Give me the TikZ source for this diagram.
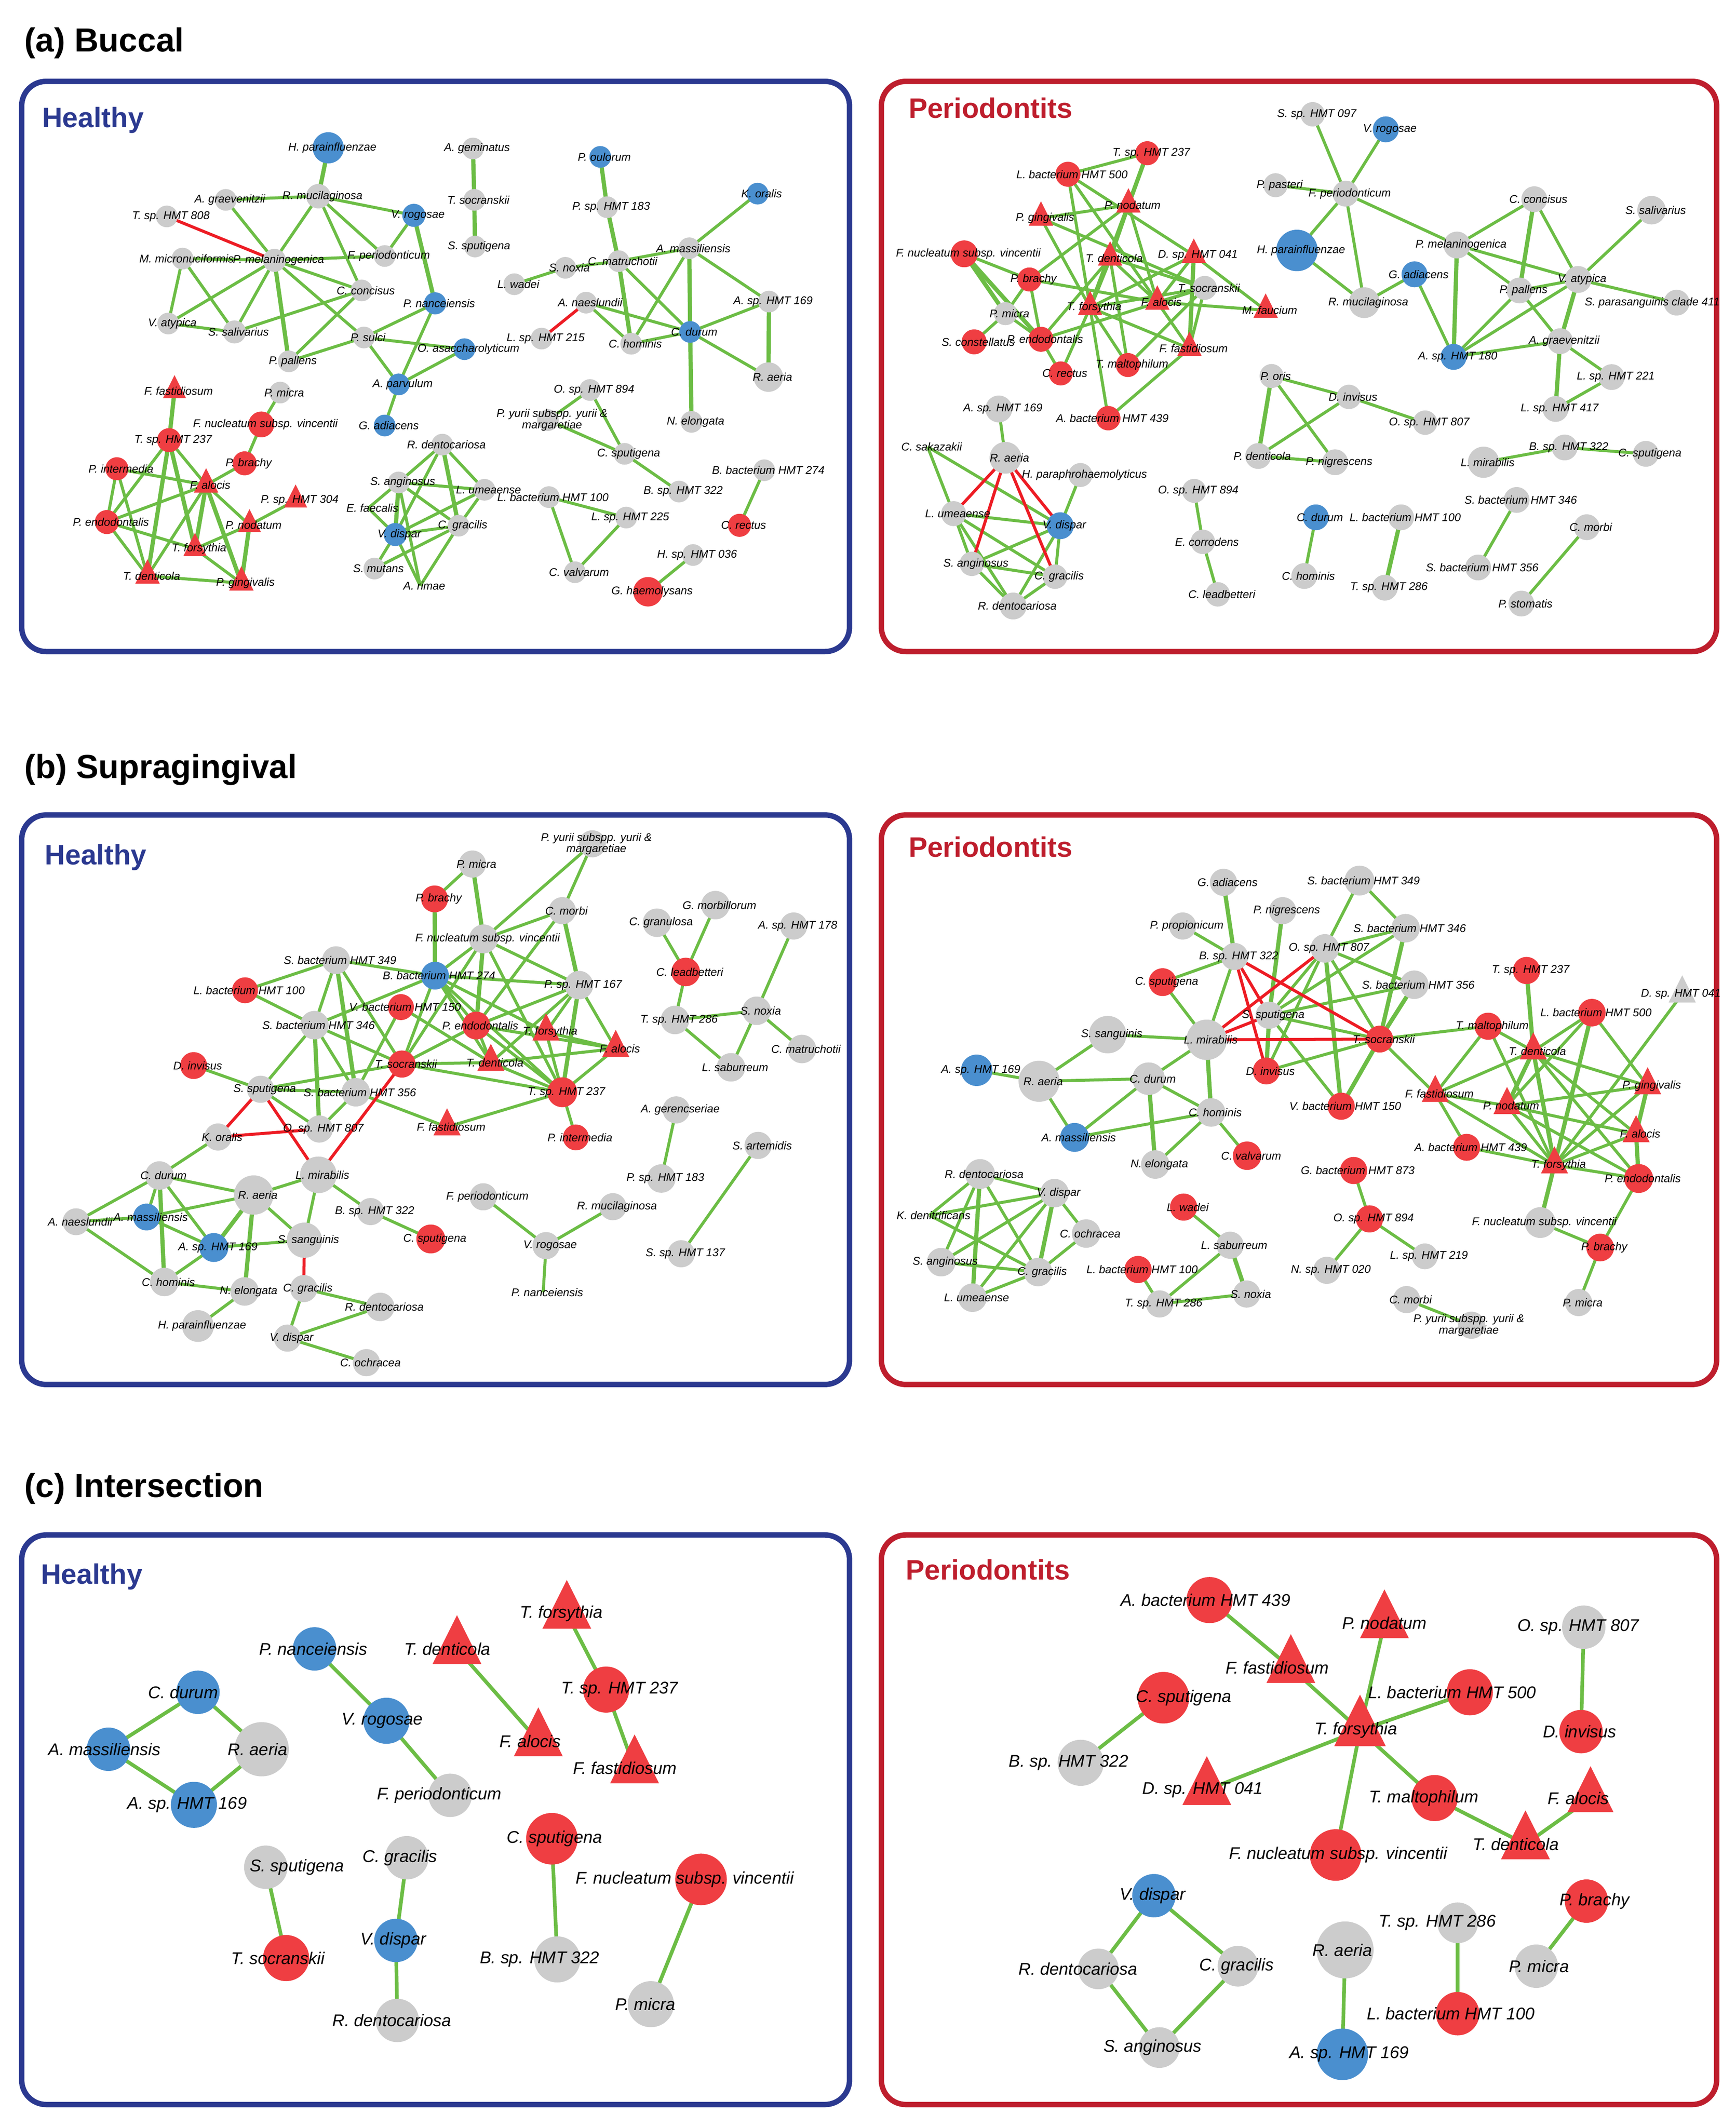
\documentclass[tikz,border=0pt]{standalone}
\usepackage{fontspec}
\setmainfont{Liberation Sans}
\usetikzlibrary{shapes.geometric}
\definecolor{hblue}{HTML}{2B3990}
\definecolor{pred}{HTML}{BE1E2D}
\definecolor{nodered}{HTML}{EF3E42}
\definecolor{nodeblue}{HTML}{4A8FCF}
\definecolor{nodegray}{HTML}{CCCCCC}
\definecolor{posgreen}{HTML}{6CBD45}
\definecolor{negred}{HTML}{ED1C24}
\newcommand{\upx}{0.05cm}
\pgfdeclarelayer{paper}
\pgfdeclarelayer{edges}
\pgfsetlayers{paper,edges,main}
\tikzstyle{lab} = [font=\fontsize{11.8}{10.4}\selectfont\itshape, inner sep=0pt, align=center]
\tikzstyle{labc} = [font=\fontsize{17.8}{17}\selectfont\itshape, inner sep=0pt, align=center]
\tikzset{
  sp/.style={inner sep=0pt, outer sep=0pt},
  gn/.style={sp, circle, fill=nodegray, minimum size=#1*\upx},
  rn/.style={sp, circle, fill=nodered, minimum size=#1*\upx},
  bn/.style={sp, circle, fill=nodeblue, minimum size=#1*\upx},
  wn/.style={sp, circle, minimum size=#1*\upx},
  rt/.style={sp, isosceles triangle, isosceles triangle stretches, shape border rotate=90, fill=nodered, minimum width=#1*\upx, minimum height=#1*\upx},
  gt/.style={sp, isosceles triangle, isosceles triangle stretches, shape border rotate=90, fill=nodegray, minimum width=#1*\upx, minimum height=#1*\upx},
  lb/.style={label={[lab,xshift=3*\upx]center:#1}},
  lx/.style 2 args={label={[lab,xshift=#1*\upx]center:#2}},
  lc/.style 2 args={label={[labc,xshift=#1*\upx]center:#2}},
  posedge/.style={posgreen, line width=2.2*\upx},
  thkedge/.style={posgreen, line width=3.1*\upx},
  negedge/.style={negred, line width=2.2*\upx},
  cedge/.style={posgreen, line width=2.7*\upx},
  hbox/.style={draw=hblue, line width=4*\upx, rounded corners=18*\upx},
  pbox/.style={draw=pred, line width=4*\upx, rounded corners=18*\upx},
  sec/.style={font=\fontsize{35}{35}\selectfont\bfseries, inner sep=0pt, anchor=base west},
  grp/.style={font=\fontsize{29.5}{30}\selectfont\bfseries, inner sep=0pt, anchor=base west}
}

\begin{document}
\begin{tikzpicture}[x=0.05cm,y=-0.05cm]
\begin{pgfonlayer}{paper}
\fill[white] (0,0) rectangle (1280,1568.6);
\end{pgfonlayer}
\useasboundingbox (0,0) rectangle (1280,1568.6);

\node[sec] (ta) at (18,38) {(a) Buccal};
\node[sec] (tb) at (18,574) {(b) Supragingival};
\node[sec] (tc) at (18,1104) {(c) Intersection};

\draw[hbox] (16,60) rectangle (626.5,480.5);
\draw[pbox] (650,60) rectangle (1266,480.5);
\draw[hbox] (16,601) rectangle (626.5,1021);
\draw[pbox] (650,601) rectangle (1266,1021);
\draw[hbox] (16,1132) rectangle (626.5,1552);
\draw[pbox] (650,1132) rectangle (1266,1552);

\node[grp,text=hblue] (aH) at (31,94) {Healthy};
\node[grp,text=pred] (aP) at (670,87) {Periodontits};
\node[grp,text=hblue] (bH) at (33,637.5) {Healthy};
\node[grp,text=pred] (bP) at (670,632) {Periodontits};
\node[grp,text=hblue] (cH) at (30,1168) {Healthy};
\node[grp,text=pred] (cP) at (668,1165) {Periodontits};

\node[bn=23,lb={H. parainfluenzae}] (aHhpar) at (242.1,109) {};
\node[gn=16,lb={A. graevenitzii}] (aHagra) at (166.5,147.4) {};
\node[gn=18,lb={R. mucilaginosa}] (aHrmuc) at (234.8,144.7) {};
\node[gn=16,lb={T. sp. HMT 808}] (aHts808) at (123,159.6) {};
\node[gn=16,lb={M. micronuciformis}] (aHmmic) at (134.6,190.7) {};
\node[gn=17,lb={P. melaninogenica}] (aHpmel) at (202.4,192) {};
\node[gn=16,lb={V. atypica}] (aHvaty) at (124.1,238.6) {};
\node[gn=17,lb={S. salivarius}] (aHssal) at (172.9,244.8) {};
\node[gn=16,lb={P. pallens}] (aHppal) at (213,266.5) {};
\node[gn=16,lb={P. micra}] (aHpmic) at (206.6,289.5) {};
\node[rt=17,lb={F. fastidiosum}] (aHffas) at (128.7,288.4) {};
\node[rn=19,lb={F. nucleatum subsp. vincentii}] (aHfnuc) at (192.7,313) {};
\node[rn=17.7,lb={T. sp. HMT 237}] (aHts237) at (124.7,324.6) {};
\node[rn=17,lb={P. intermedia}] (aHpint) at (86.2,345.7) {};
\node[rn=17.7,lb={P. brachy}] (aHpbra) at (180.4,341.7) {};
\node[rt=18,lb={F. alocis}] (aHfalo) at (152,357.7) {};
\node[rt=17,lb={P. sp. HMT 304}] (aHps304) at (218,369) {};
\node[rn=17.7,lb={P. endodontalis}] (aHpend) at (78.8,385) {};
\node[rt=17,lb={P. nodatum}] (aHpnod) at (184,387.2) {};
\node[rt=17,lb={T. forsythia}] (aHtfor) at (143.8,404.7) {};
\node[rt=18,lb={T. denticola}] (aHtden) at (108.8,424.8) {};
\node[rt=18,lb={P. gingivalis}] (aHpgin) at (178,430) {};
\node[gn=16,lb={A. geminatus}] (aHagem) at (348.8,109.5) {};
\node[gn=16,lb={T. socranskii}] (aHtsoc) at (349.8,147.4) {};
\node[gn=16,lb={S. sputigena}] (aHsspu) at (350.3,181.8) {};
\node[bn=17,lb={V. rogosae}] (aHvrog) at (305.2,158.8) {};
\node[gn=16,lb={F. periodonticum}] (aHfper) at (283.7,188.8) {};
\node[gn=16,lb={C. concisus}] (aHccon) at (266.7,214.2) {};
\node[bn=16.3,lb={P. nanceiensis}] (aHpnan) at (320.9,223.7) {};
\node[gn=16,lb={P. sulci}] (aHpsul) at (268.4,248.9) {};
\node[bn=16,lb={O. asaccharolyticum}] (aHoasa) at (342.5,257.5) {};
\node[bn=16,lb={A. parvulum}] (aHapar) at (294,283.5) {};
\node[bn=16,lb={G. adiacens}] (aHgadi) at (283.7,313.8) {};
\node[gn=16,lb={R. dentocariosa}] (aHrden) at (326.2,327.9) {};
\node[gn=16,lb={S. anginosus}] (aHsang) at (294,355.8) {};
\node[gn=16,lb={L. umeaense}] (aHlume) at (357.3,361.2) {};
\node[wn=16,lb={E. faecalis}] (aHefae) at (271.6,374.7) {};
\node[bn=17,lb={V. dispar}] (aHvdis) at (291.5,394.2) {};
\node[gn=16,lb={C. gracilis}] (aHcgra) at (338.2,387.7) {};
\node[gn=16,lb={S. mutans}] (aHsmut) at (276.1,419.3) {};
\node[wn=16,lb={A. rimae}] (aHarim) at (309.9,432) {};
\node[gn=16,lb={L. wadei}] (aHlwad) at (379.3,209.6) {};
\node[gn=16,lb={S. noxia}] (aHsnox) at (416.9,197.5) {};
\node[gn=16,lb={L. sp. HMT 215}] (aHls215) at (399.4,249.7) {};
\node[gn=16,lb={A. naeslundii}] (aHanae) at (432.2,223.2) {};
\node[gn=16,lb={L. bacterium HMT 100}] (aHlb100) at (404.8,366.6) {};
\node[gn=16,lb={C. valvarum}] (aHcval) at (424,422) {};
\node[gn=16,lb={O. sp. HMT 894}] (aHos894) at (435.1,287.6) {};
\node[gn=16,lb={P. yurii subspp. yurii \&\\margaretiae}] (aHpyur) at (404.1,309.8) {};
\node[gn=16,lb={C. sputigena}] (aHcspu) at (460.6,334.7) {};
\node[gn=16,lb={B. sp. HMT 322}] (aHbs322) at (500.8,362.5) {};
\node[gn=16,lb={L. sp. HMT 225}] (aHls225) at (461.8,381.7) {};
\node[gn=16,lb={H. sp. HMT 036}] (aHhs036) at (511.1,409.3) {};
\node[rn=21.7,lb={G. haemolysans}] (aHghae) at (477.9,436.4) {};
\node[gn=16,lb={B. bacterium HMT 274}] (aHbb274) at (563.6,346.8) {};
\node[rn=17,lb={C. rectus}] (aHcrec) at (545.4,387.4) {};
\node[bn=16,lb={P. oulorum}] (aHpoul) at (442.7,115.7) {};
\node[gn=16,lb={P. sp. HMT 183}] (aHps183) at (447.7,152.8) {};
\node[bn=16,lb={K. oralis}] (aHkora) at (558.7,142.8) {};
\node[gn=16,lb={C. matruchotii}] (aHcmat) at (456.2,192.6) {};
\node[gn=16,lb={A. massiliensis}] (aHamas) at (508.3,183.1) {};
\node[gn=16,lb={A. sp. HMT 169}] (aHas169) at (567.1,222.4) {};
\node[bn=16,lb={C. durum}] (aHcdur) at (509,244.8) {};
\node[gn=16,lb={C. hominis}] (aHchom) at (465.5,253.5) {};
\node[gn=21.7,lb={R. aeria}] (aHraer) at (566.7,278.1) {};
\node[gn=16,lb={N. elongata}] (aHnelo) at (510,311.1) {};

\node[rn=17.7,lb={T. sp. HMT 237}] (aPts237) at (846.1,113) {};
\node[rn=18.4,lb={L. bacterium HMT 500}] (aPlb500) at (787.6,128.5) {};
\node[rt=18,lb={P. nodatum}] (aPpnod) at (832.2,151.2) {};
\node[rt=18,lb={P. gingivalis}] (aPpgin) at (767.7,160.9) {};
\node[rn=19.8,lb={F. nucleatum subsp. vincentii}] (aPfnuc) at (711.1,187.2) {};
\node[rt=18,lb={T. denticola}] (aPtden) at (818.7,190.3) {};
\node[rn=17.7,lb={P. brachy}] (aPpbra) at (759.2,206.1) {};
\node[gn=17,lb={P. micra}] (aPpmic) at (741.5,231.3) {};
\node[rt=18,lb={T. forsythia}] (aPtfor) at (803.9,226.8) {};
\node[rt=18,lb={F. alocis}] (aPfalo) at (853.5,222.8) {};
\node[rn=18.4,lb={S. constellatus}] (aPscon) at (718.4,252.1) {};
\node[rn=18.4,lb={P. endodontalis}] (aPpend) at (767.7,250.2) {};
\node[rn=17.7,lb={C. rectus}] (aPcrec) at (782.3,275.4) {};
\node[rn=17.7,lb={T. maltophilum}] (aPtmal) at (831.8,269.2) {};
\node[rt=18,lb={F. fastidiosum}] (aPffas) at (877.2,257) {};
\node[rn=18,lb={A. bacterium HMT 439}] (aPab439) at (817.3,308.4) {};
\node[rt=18,lb={D. sp. HMT 041}] (aPds041) at (880.4,188.3) {};
\node[gn=17.7,lb={T. socranskii}] (aPtsoc) at (888.5,212.3) {};
\node[rt=18,lb={M. faucium}] (aPmfau) at (933.4,228.8) {};
\node[gn=19.8,lb={A. sp. HMT 169}] (aPas169) at (736.6,301.6) {};
\node[wn=16,lb={C. sakazakii}] (aPcsak) at (684.1,329.5) {};
\node[gn=23.4,lb={R. aeria}] (aPraer) at (741.5,337.6) {};
\node[gn=17.7,lb={H. paraphrohaemolyticus}] (aPhpar) at (796.8,350.3) {};
\node[gn=18.4,lb={L. umeaense}] (aPlume) at (703.3,378.8) {};
\node[bn=19.8,lb={V. dispar}] (aPvdis) at (781.9,387.7) {};
\node[gn=18,lb={S. anginosus}] (aPsang) at (716.7,415.8) {};
\node[gn=18,lb={C. gracilis}] (aPcgra) at (778.1,425.3) {};
\node[gn=19.8,lb={R. dentocariosa}] (aPrden) at (747.2,446.9) {};
\node[gn=18,lb={S. sp. HMT 097}] (aPss097) at (968.1,84.3) {};
\node[bn=19.1,lb={V. rogosae}] (aPvrog) at (1022,95.4) {};
\node[gn=17.7,lb={P. pasteri}] (aPppas) at (940.7,136.6) {};
\node[gn=19.1,lb={F. periodonticum}] (aPfper) at (992.4,142.8) {};
\node[bn=30.6,lb={H. parainfluenzae}] (aPhpin) at (956.5,184.7) {};
\node[bn=19.1,lb={G. adiacens}] (aPgadi) at (1043.2,202.3) {};
\node[gn=22.7,lb={R. mucilaginosa}] (aPrmuc) at (1006.1,223.2) {};
\node[gn=19.8,lb={P. melaninogenica}] (aPpmel) at (1074.5,180.7) {};
\node[gn=17.7,lb={P. oris}] (aPpori) at (937.8,277.3) {};
\node[gn=18,lb={D. invisus}] (aPdinv) at (994.8,292.7) {};
\node[gn=18,lb={O. sp. HMT 807}] (aPos807) at (1051,311.7) {};
\node[gn=19,lb={P. denticola}] (aPpden) at (927.9,336.3) {};
\node[gn=19,lb={P. nigrescens}] (aPpnig) at (984.6,340.9) {};
\node[gn=17.7,lb={O. sp. HMT 894}] (aPos894) at (880.7,362) {};
\node[gn=18,lb={E. corrodens}] (aPecor) at (887.1,399.6) {};
\node[gn=18,lb={C. leadbetteri}] (aPclea) at (898.1,438.3) {};
\node[bn=19,lb={C. durum}] (aPcdur) at (970.4,381.5) {};
\node[gn=19,lb={C. hominis}] (aPchom) at (961.9,424.8) {};
\node[gn=19,lb={L. bacterium HMT 100}] (aPlb100) at (1033.3,381.5) {};
\node[gn=19,lb={T. sp. HMT 286}] (aPts286) at (1021.3,433.4) {};
\node[gn=19,lb={C. concisus}] (aPccon) at (1131.5,146.9) {};
\node[gn=21,lb={S. salivarius}] (aPssal) at (1218,155) {};
\node[gn=19.8,lb={V. atypica}] (aPvaty) at (1163.8,206.1) {};
\node[gn=19,lb={P. pallens}] (aPppal) at (1120.6,214.2) {};
\node[gn=19,lx={-18}{S. parasanguinis clade 411}] (aPspar) at (1236.5,223.2) {};
\node[gn=19,lb={A. graevenitzii}] (aPagra) at (1150.6,251.6) {};
\node[bn=19.1,lb={A. sp. HMT 180}] (aPas180) at (1072,263.2) {};
\node[gn=19,lb={L. sp. HMT 221}] (aPls221) at (1188.6,278.1) {};
\node[gn=19,lb={L. sp. HMT 417}] (aPls417) at (1147.2,301.6) {};
\node[gn=23,lb={L. mirabilis}] (aPlmir) at (1094.1,340.9) {};
\node[gn=19,lb={B. sp. HMT 322}] (aPbs322) at (1153.9,330) {};
\node[gn=19,lb={C. sputigena}] (aPcspu) at (1213.8,334.7) {};
\node[gn=19,lb={S. bacterium HMT 346}] (aPsb346) at (1118.5,368.7) {};
\node[gn=19,lb={C. morbi}] (aPcmor) at (1170.2,388.8) {};
\node[gn=19,lb={S. bacterium HMT 356}] (aPsb356) at (1090.1,418.5) {};
\node[gn=19,lb={P. stomatis}] (aPpsto) at (1122,445.1) {};

\node[gn=20.5,lb={S. bacterium HMT 349}] (bHsb349) at (247.8,708.1) {};
\node[rn=19.1,lb={L. bacterium HMT 100}] (bHlb100) at (180.7,730.3) {};
\node[gn=21,lb={S. bacterium HMT 346}] (bHsb346) at (231.9,756) {};
\node[rn=19.8,lb={D. invisus}] (bHdinv) at (142.8,785.8) {};
\node[gn=20,lb={S. sputigena}] (bHsspu) at (192.2,803.3) {};
\node[gn=21,lb={S. bacterium HMT 356}] (bHsb356) at (262.4,805.5) {};
\node[gn=20,lb={O. sp. HMT 807}] (bHos807) at (235.5,832.6) {};
\node[gn=20,lb={K. oralis}] (bHkora) at (160.8,838.5) {};
\node[gn=27,lb={L. mirabilis}] (bHlmir) at (234.8,866.4) {};
\node[gn=21,lb={C. durum}] (bHcdur) at (117.6,866.9) {};
\node[gn=29,lb={R. aeria}] (bHraer) at (187.1,881.3) {};
\node[gn=19.8,lb={A. naeslundii}] (bHanae) at (56.1,901) {};
\node[bn=19.8,lb={A. massiliensis}] (bHamas) at (108.1,897.5) {};
\node[bn=21.3,lb={A. sp. HMT 169}] (bHas169) at (157.7,920) {};
\node[gn=26,lb={S. sanguinis}] (bHssan) at (224.5,914.6) {};
\node[gn=21,lb={C. hominis}] (bHchom) at (121.2,945.4) {};
\node[gn=21,lb={N. elongata}] (bHnelo) at (180.4,952.4) {};
\node[gn=20,lb={C. gracilis}] (bHcgra) at (224,950.3) {};
\node[gn=23.4,lb={H. parainfluenzae}] (bHhpar) at (146,977.9) {};
\node[gn=20,lb={V. dispar}] (bHvdis) at (212,986.8) {};
\node[gn=21,lb={R. dentocariosa}] (bHrden) at (280.4,963.8) {};
\node[gn=20,lb={C. ochracea}] (bHcoch) at (270.2,1004.9) {};
\node[gn=20,lb={P. micra}] (bHpmic) at (348.4,637.2) {};
\node[rn=19.8,lb={P. brachy}] (bHpbra) at (320.5,662.9) {};
\node[gn=21.3,lb={F. nucleatum subsp. vincentii}] (bHfnuc) at (356.6,692.4) {};
\node[bn=20.5,lb={B. bacterium HMT 274}] (bHbb274) at (320.8,719.5) {};
\node[rn=19.1,lb={V. bacterium HMT 150}] (bHvb150) at (295.7,742.7) {};
\node[rn=20.5,lb={P. endodontalis}] (bHpend) at (351.2,756.3) {};
\node[rt=20,lb={T. forsythia}] (bHtfor) at (402.7,761.1) {};
\node[rn=20,lb={T. socranskii}] (bHtsoc) at (296.4,784.7) {};
\node[rt=20,lb={T. denticola}] (bHtden) at (362,783.6) {};
\node[rn=22,lb={T. sp. HMT 237}] (bHts237) at (414.7,805.5) {};
\node[rt=20,lb={F. fastidiosum}] (bHffas) at (329.7,831.1) {};
\node[rn=19,lb={P. intermedia}] (bHpint) at (424.7,838.8) {};
\node[gn=20,lb={C. morbi}] (bHcmor) at (414.7,671.6) {};
\node[gn=21,lb={P. sp. HMT 167}] (bHps167) at (427,726.5) {};
\node[gn=20,lb={P. yurii subspp. yurii \&\\margaretiae}] (bHpyur) at (436.8,622.3) {};
\node[gn=20,lb={B. sp. HMT 322}] (bHbs322) at (273.3,893.5) {};
\node[rn=21.3,lb={C. sputigena}] (bHcspu) at (317.7,913.7) {};
\node[gn=20,lb={F. periodonticum}] (bHfper) at (356.4,882.6) {};
\node[gn=20,lb={V. rogosae}] (bHvrog) at (402.7,918.6) {};
\node[wn=16,lb={P. nanceiensis}] (bHpnan) at (400.6,953) {};
\node[gn=20,lb={R. mucilaginosa}] (bHrmuc) at (452,889.9) {};
\node[rt=20,lb={F. alocis}] (bHfalo) at (454.1,773.3) {};
\node[gn=21,lb={C. granulosa}] (bHcgrn) at (484.5,680.5) {};
\node[gn=21,lb={G. morbillorum}] (bHgmor) at (527.6,667.5) {};
\node[rn=21,lb={C. leadbetteri}] (bHclea) at (505.7,716.8) {};
\node[gn=20,lb={A. sp. HMT 178}] (bHas178) at (585.3,682.9) {};
\node[gn=21,lb={T. sp. HMT 286}] (bHts286) at (497.8,752.2) {};
\node[gn=21,lb={S. noxia}] (bHsnox) at (558,745.4) {};
\node[gn=21,lb={C. matruchotii}] (bHcmat) at (591.4,773.6) {};
\node[gn=21,lb={L. saburreum}] (bHlsab) at (539.1,787.1) {};
\node[gn=20,lb={A. gerencseriae}] (bHager) at (498.7,818.5) {};
\node[gn=21,lb={P. sp. HMT 183}] (bHps183) at (487.7,869.1) {};
\node[gn=20,lb={S. artemidis}] (bHsart) at (559.1,844.7) {};
\node[gn=20,lb={S. sp. HMT 137}] (bHss137) at (502.4,924.6) {};

\node[gn=20,lb={P. propionicum}] (bPprop) at (872.2,682.9) {};
\node[rn=20.5,lb={C. sputigena}] (bPcspu) at (857.4,724.3) {};
\node[gn=27.6,lb={S. sanguinis}] (bPssan) at (816.9,763) {};
\node[bn=23.2,lb={A. sp. HMT 169}] (bPas169) at (720.3,789.3) {};
\node[gn=30.3,lb={R. aeria}] (bPraer) at (766.3,797.4) {};
\node[gn=24,lb={C. durum}] (bPcdur) at (847.1,795.5) {};
\node[bn=21.3,lb={A. massiliensis}] (bPamas) at (792.5,838.8) {};
\node[gn=21,lb={N. elongata}] (bPnelo) at (852,858.8) {};
\node[gn=22,lb={R. dentocariosa}] (bPrden) at (722.8,865.8) {};
\node[gn=21,lb={V. dispar}] (bPvdis) at (777.7,879.9) {};
\node[wn=16,lb={K. denitrificans}] (bPkden) at (685.5,896.2) {};
\node[gn=21,lb={C. ochracea}] (bPcoch) at (801,909.7) {};
\node[gn=21,lb={S. anginosus}] (bPsang) at (694.1,930.8) {};
\node[gn=21,lb={C. gracilis}] (bPcgra) at (765.6,938.1) {};
\node[gn=21,lb={L. umeaense}] (bPlume) at (717.2,957) {};
\node[rn=20,lb={L. wadei}] (bPlwad) at (872.9,890.2) {};
\node[rn=20,lb={L. bacterium HMT 100}] (bPlb100) at (839.3,936.2) {};
\node[gn=20,lb={T. sp. HMT 286}] (bPts286) at (855.2,961.6) {};
\node[gn=20,lb={G. adiacens}] (bPgadi) at (902.3,650.7) {};
\node[gn=20,lb={P. nigrescens}] (bPpnig) at (945.9,671.6) {};
\node[gn=22,lb={S. bacterium HMT 349}] (bPsb349) at (1002.6,649.4) {};
\node[gn=20,lb={B. sp. HMT 322}] (bPbs322) at (910.5,705.4) {};
\node[gn=21,lb={O. sp. HMT 807}] (bPos807) at (977.1,699.4) {};
\node[gn=21,lb={S. bacterium HMT 346}] (bPsb346) at (1036.6,684.5) {};
\node[gn=21,lb={S. bacterium HMT 356}] (bPsb356) at (1043,726.2) {};
\node[gn=20,lb={S. sputigena}] (bPsspu) at (936,748.7) {};
\node[gn=29.8,lb={L. mirabilis}] (bPlmir) at (889.9,766.8) {};
\node[rn=19.8,lb={T. socranskii}] (bPtsoc) at (1017.5,766.3) {};
\node[rn=19.8,lb={D. invisus}] (bPdinv) at (933.9,789.8) {};
\node[gn=21,lb={C. hominis}] (bPchom) at (893.2,820.4) {};
\node[rn=20,lb={V. bacterium HMT 150}] (bPvb150) at (989.1,815.8) {};
\node[rn=21,lb={C. valvarum}] (bPcval) at (919.7,852.3) {};
\node[rn=20,lb={G. bacterium HMT 873}] (bPgb873) at (998.3,863.2) {};
\node[gn=20,lb={L. saburreum}] (bPlsab) at (907.2,918.3) {};
\node[rn=20,lb={O. sp. HMT 894}] (bPos894) at (1010,898.9) {};
\node[gn=19,lb={L. sp. HMT 219}] (bPls219) at (1050.8,926.5) {};
\node[gn=20,lb={N. sp. HMT 020}] (bPns020) at (978.5,936.8) {};
\node[gn=20,lb={S. noxia}] (bPsnox) at (919.4,954.3) {};
\node[gn=20,lb={C. morbi}] (bPcmor) at (1037.3,958.4) {};
\node[gn=20,lx={-2}{P. yurii subspp. yurii \&\\margaretiae}] (bPpyur) at (1085.2,977.3) {};
\node[rn=19.8,lb={A. bacterium HMT 439}] (bPab439) at (1081.6,846.1) {};
\node[rn=20,lb={T. sp. HMT 237}] (bPts237) at (1125.8,715.7) {};
\node[rn=20,lb={T. maltophilum}] (bPtmal) at (1097.5,756.8) {};
\node[rn=20.3,lb={L. bacterium HMT 500}] (bPlb500) at (1174,746.8) {};
\node[gt=20,lx={-1}{D. sp. HMT 041}] (bPds041) at (1240.6,733.1) {};
\node[rt=20,lb={T. denticola}] (bPtden) at (1130.8,775.1) {};
\node[rt=20,lb={F. fastidiosum}] (bPffas) at (1058.5,806.5) {};
\node[rt=20,lb={P. gingivalis}] (bPpgin) at (1215.1,800.8) {};
\node[rt=20,lb={P. nodatum}] (bPpnod) at (1111.4,815.4) {};
\node[rt=20,lb={F. alocis}] (bPfalo) at (1206.6,836.2) {};
\node[rt=20,lb={T. forsythia}] (bPtfor) at (1146.4,859.2) {};
\node[rn=21.3,lb={P. endodontalis}] (bPpend) at (1208.5,869.1) {};
\node[gn=22.7,lb={F. nucleatum subsp. vincentii}] (bPfnuc) at (1135.9,901.6) {};
\node[rn=20.4,lb={P. brachy}] (bPpbra) at (1180.1,920) {};
\node[gn=20,lb={P. micra}] (bPpmic) at (1164.2,960.6) {};

\node[bn=32,lc={-11}{C. durum}] (cHcdur) at (146,1248) {};
\node[bn=32,lc={-3}{A. massiliensis}] (cHamas) at (80,1290) {};
\node[gn=40,lc={-3}{R. aeria}] (cHraer) at (193,1290) {};
\node[bn=34,lc={-5}{A. sp. HMT 169}] (cHas169) at (143,1331) {};
\node[bn=32,lc={-1}{P. nanceiensis}] (cHpnan) at (232,1216) {};
\node[bn=34,lc={-3}{V. rogosae}] (cHvrog) at (285,1269) {};
\node[gn=32,lc={-8}{F. periodonticum}] (cHfper) at (332,1324) {};
\node[rt=36,lc={-7}{T. denticola}] (cHtden) at (337,1216) {};
\node[rt=36,lc={-6}{F. alocis}] (cHfalo) at (397,1284) {};
\node[rt=36,lc={-4}{T. forsythia}] (cHtfor) at (418,1190) {};
\node[rn=34,lc={10}{T. sp. HMT 237}] (cHts237) at (447,1246) {};
\node[rt=36,lc={-7}{F. fastidiosum}] (cHffas) at (468,1304) {};
\node[gn=32,lc={23}{S. sputigena}] (cHsspu) at (196,1377) {};
\node[rn=34,lc={-6}{T. socranskii}] (cHtsoc) at (211,1444) {};
\node[gn=32,lc={-5}{C. gracilis}] (cHcgra) at (300,1370) {};
\node[bn=32,lc={-2}{V. dispar}] (cHvdis) at (292,1431) {};
\node[gn=32,lc={-4}{R. dentocariosa}] (cHrden) at (293,1490) {};
\node[rn=38,lc={2}{C. sputigena}] (cHcspu) at (407,1356) {};
\node[gn=34,lc={-13}{B. sp. HMT 322}] (cHbs322) at (411,1445) {};
\node[rn=38,lc={-12}{F. nucleatum subsp. vincentii}] (cHfnuc) at (517,1386) {};
\node[gn=34,lc={-4}{P. micra}] (cHpmic) at (480,1478) {};

\node[rn=34,lc={-3}{A. bacterium HMT 439}] (cPab439) at (892,1180) {};
\node[rt=36,lc={0}{P. nodatum}] (cPpnod) at (1021,1197) {};
\node[gn=32,lc={-4}{O. sp. HMT 807}] (cPos807) at (1168,1200) {};
\node[rt=36,lc={-10}{F. fastidiosum}] (cPffas) at (952,1230) {};
\node[rn=38,lc={15}{C. sputigena}] (cPcspu) at (858,1252) {};
\node[rn=34,lc={-13}{L. bacterium HMT 500}] (cPlb500) at (1084,1248) {};
\node[rt=38,lc={-3}{T. forsythia}] (cPtfor) at (1003,1276) {};
\node[rn=32,lc={-1}{D. invisus}] (cPdinv) at (1166,1277) {};
\node[gn=34,lc={-9}{B. sp. HMT 322}] (cPbs322) at (797,1300) {};
\node[rt=36,lc={-3}{D. sp. HMT 041}] (cPds041) at (890,1320) {};
\node[rn=34,lc={-8}{T. maltophilum}] (cPtmal) at (1058,1326) {};
\node[rt=34,lc={-9}{F. alocis}] (cPfalo) at (1173,1326) {};
\node[rn=38,lc={2}{F. nucleatum subsp. vincentii}] (cPfnuc) at (985,1368) {};
\node[rt=36,lc={-7}{T. denticola}] (cPtden) at (1125,1360) {};
\node[bn=32,lc={-1}{V. dispar}] (cPvdis) at (851,1398) {};
\node[gn=30,lc={-15}{R. dentocariosa}] (cPrden) at (810,1452) {};
\node[gn=30,lc={-1}{C. gracilis}] (cPcgra) at (913,1450) {};
\node[gn=30,lc={-5}{S. anginosus}] (cPsang) at (855,1510) {};
\node[gn=42,lc={-2}{R. aeria}] (cPraer) at (992,1438) {};
\node[bn=38,lc={5}{A. sp. HMT 169}] (cPas169) at (990,1515) {};
\node[gn=30,lc={-15}{T. sp. HMT 286}] (cPts286) at (1075,1418) {};
\node[rn=32,lc={-5}{L. bacterium HMT 100}] (cPlb100) at (1075,1485) {};
\node[rn=32,lc={6}{P. brachy}] (cPpbra) at (1170,1402) {};
\node[gn=32,lc={2}{P. micra}] (cPpmic) at (1133,1450) {};

\begin{pgfonlayer}{edges}
\foreach \a/\b in {aHagra/aHrmuc, aHagra/aHpmel, aHmmic/aHpmel, aHmmic/aHvaty, aHmmic/aHssal, aHvaty/aHssal,
  aHvaty/aHpmel, aHssal/aHpmel, aHpmel/aHrmuc, aHpmel/aHfper, aHpmel/aHccon, aHpmel/aHpsul, aHssal/aHccon,
  aHppal/aHccon, aHppal/aHpsul, aHrmuc/aHvrog, aHrmuc/aHfper, aHrmuc/aHccon, aHvrog/aHfper, aHpnan/aHpsul,
  aHpnan/aHapar, aHpsul/aHoasa, aHpsul/aHapar, aHapar/aHoasa, aHapar/aHgadi, aHpmic/aHfnuc, aHfnuc/aHpbra,
  aHpbra/aHfalo, aHts237/aHfalo, aHts237/aHpend, aHpint/aHfalo, aHpint/aHpend, aHpint/aHtden, aHpend/aHfalo,
  aHpend/aHtfor, aHpend/aHtden, aHtden/aHfalo, aHtden/aHpgin, aHtfor/aHpnod, aHtfor/aHpgin, aHfalo/aHpnod,
  aHpnod/aHps304, aHrden/aHsang, aHrden/aHlume, aHrden/aHvdis, aHsang/aHlume, aHsang/aHefae, aHsang/aHcgra,
  aHsang/aHarim, aHefae/aHvdis, aHvdis/aHlume, aHvdis/aHcgra, aHvdis/aHsmut, aHvdis/aHarim, aHsmut/aHcgra,
  aHcgra/aHarim, aHcgra/aHlume, aHlwad/aHsnox, aHsnox/aHcmat, aHlb100/aHcval, aHlb100/aHls225, aHcval/aHls225,
  aHpyur/aHos894, aHpyur/aHcspu, aHos894/aHcspu, aHcspu/aHbs322, aHcmat/aHamas, aHcmat/aHcdur, aHamas/aHkora,
  aHamas/aHchom, aHamas/aHas169, aHanae/aHcdur, aHanae/aHchom, aHchom/aHcdur, aHcdur/aHas169, aHcdur/aHraer,
  aHbb274/aHcrec, aHhs036/aHghae}
  \draw[posedge] (\a.center) -- (\b.center);
\foreach \a/\b in {aHpmel/aHppal, aHts237/aHtden, aHts237/aHtfor, aHtfor/aHfalo, aHfalo/aHpgin, aHpnod/aHpgin,
  aHcdur/aHnelo, aHamas/aHcdur, aHas169/aHraer, aHagem/aHtsoc, aHtsoc/aHsspu, aHrmuc/aHhpar, aHffas/aHts237,
  aHsang/aHvdis, aHrden/aHcgra, aHps183/aHcmat, aHcmat/aHchom, aHpoul/aHps183, aHvrog/aHpnan}
  \draw[thkedge] (\a.center) -- (\b.center);
\foreach \a/\b in {aHts808/aHpmel, aHls215/aHanae}
  \draw[negedge] (\a.center) -- (\b.center);

\foreach \a/\b in {aPlb500/aPts237, aPlb500/aPtfor, aPlb500/aPfalo, aPlb500/aPds041, aPpgin/aPpnod, aPpgin/aPtfor,
  aPpgin/aPtsoc, aPpnod/aPfalo, aPpbra/aPpnod, aPfnuc/aPpbra, aPpbra/aPpmic, aPpbra/aPpend, aPpbra/aPfalo,
  aPpmic/aPscon, aPpmic/aPpend, aPpend/aPcrec, aPpend/aPtden, aPpend/aPtsoc, aPcrec/aPtfor, aPtden/aPfalo,
  aPtden/aPtmal, aPtden/aPtsoc, aPtfor/aPtmal, aPtfor/aPab439, aPtfor/aPds041, aPtfor/aPffas, aPtfor/aPtsoc,
  aPfalo/aPmfau, aPfalo/aPtsoc, aPfalo/aPffas, aPfalo/aPds041, aPtmal/aPtsoc, aPab439/aPffas, aPds041/aPmfau,
  aPtsoc/aPffas, aPas169/aPraer, aPcsak/aPlume, aPcsak/aPvdis, aPhpar/aPvdis, aPlume/aPvdis, aPlume/aPsang,
  aPlume/aPcgra, aPlume/aPrden, aPsang/aPvdis, aPsang/aPcgra, aPsang/aPrden, aPvdis/aPcgra, aPvdis/aPrden,
  aPcgra/aPrden, aPss097/aPfper, aPvrog/aPfper, aPppas/aPfper, aPfper/aPhpin, aPfper/aPrmuc, aPfper/aPpmel,
  aPhpin/aPrmuc, aPrmuc/aPgadi, aPgadi/aPas180, aPpmel/aPccon, aPpmel/aPppal, aPpmel/aPvaty, aPccon/aPvaty,
  aPssal/aPvaty, aPvaty/aPspar, aPvaty/aPppal, aPvaty/aPas180, aPppal/aPas180, aPppal/aPagra, aPas180/aPagra,
  aPagra/aPls221, aPls221/aPls417, aPpori/aPdinv, aPpori/aPpnig, aPdinv/aPpden, aPdinv/aPos807, aPpden/aPpnig,
  aPos894/aPecor, aPecor/aPclea, aPcdur/aPchom, aPlmir/aPbs322, aPbs322/aPcspu, aPsb346/aPsb356, aPcmor/aPpsto}
  \draw[posedge] (\a.center) -- (\b.center);
\foreach \a/\b in {aPts237/aPpnod, aPpnod/aPtden, aPpnod/aPtfor, aPtden/aPtfor, aPfnuc/aPpmic, aPfnuc/aPpend,
  aPds041/aPffas, aPpmel/aPas180, aPccon/aPppal, aPvaty/aPagra, aPagra/aPls417, aPpori/aPpden, aPlb100/aPts286}
  \draw[thkedge] (\a.center) -- (\b.center);
\foreach \a/\b in {aPraer/aPlume, aPraer/aPsang, aPraer/aPcgra, aPraer/aPvdis}
  \draw[negedge] (\a.center) -- (\b.center);

\foreach \a/\b in {bHlb100/bHsb349, bHlb100/bHsb346, bHdinv/bHsspu, bHsspu/bHsb346, bHsspu/bHos807, bHsspu/bHsb356,
  bHsspu/bHtsoc, bHkora/bHcdur, bHcdur/bHanae, bHcdur/bHamas, bHcdur/bHraer, bHcdur/bHas169, bHanae/bHamas,
  bHanae/bHchom, bHamas/bHraer, bHamas/bHas169, bHraer/bHlmir, bHraer/bHssan, bHas169/bHssan, bHas169/bHchom,
  bHchom/bHnelo, bHnelo/bHhpar, bHlmir/bHssan, bHlmir/bHbs322, bHcgra/bHvdis, bHcgra/bHrden, bHvdis/bHrden,
  bHvdis/bHcoch, bHbs322/bHcspu, bHfper/bHvrog, bHvrog/bHrmuc, bHvrog/bHpnan, bHpmic/bHpbra, bHsb349/bHbb274,
  bHsb349/bHsb346, bHsb349/bHtsoc, bHsb346/bHbb274, bHsb346/bHsb356, bHsb346/bHtsoc, bHsb356/bHvb150,
  bHsb356/bHos807, bHsb356/bHffas, bHbb274/bHfnuc, bHbb274/bHtsoc, bHbb274/bHpend, bHbb274/bHtden,
  bHbb274/bHps167, bHbb274/bHts237, bHbb274/bHtfor, bHfnuc/bHpyur, bHfnuc/bHcmor, bHfnuc/bHtsoc, bHfnuc/bHps167,
  bHfnuc/bHts237, bHcmor/bHpyur, bHcmor/bHpend, bHvb150/bHtden, bHpend/bHtsoc, bHpend/bHtden, bHpend/bHps167,
  bHpend/bHts237, bHpend/bHfalo, bHtsoc/bHtden, bHtsoc/bHts237, bHtden/bHps167, bHtden/bHts237, bHtden/bHfalo,
  bHtfor/bHps167, bHtfor/bHts237, bHtfor/bHfalo, bHps167/bHfalo, bHts237/bHfalo, bHts237/bHffas, bHts237/bHpint,
  bHcgrn/bHclea, bHgmor/bHclea, bHclea/bHts286, bHts286/bHsnox, bHts286/bHlsab, bHsnox/bHas178, bHsnox/bHcmat,
  bHsnox/bHlsab, bHager/bHps183, bHsart/bHss137}
  \draw[posedge] (\a.center) -- (\b.center);
\foreach \a/\b in {bHcdur/bHchom, bHpmic/bHfnuc, bHpbra/bHbb274, bHsb349/bHsb356, bHsb346/bHos807, bHfnuc/bHpend,
  bHcmor/bHps167, bHps167/bHts237, bHraer/bHas169, bHraer/bHnelo}
  \draw[thkedge] (\a.center) -- (\b.center);
\foreach \a/\b in {bHsspu/bHkora, bHsspu/bHlmir, bHkora/bHos807, bHlmir/bHtsoc, bHssan/bHcgra}
  \draw[negedge] (\a.center) -- (\b.center);

\foreach \a/\b in {bPas169/bPraer, bPraer/bPssan, bPraer/bPcdur, bPraer/bPamas, bPssan/bPlmir, bPcdur/bPamas,
  bPcdur/bPlmir, bPcdur/bPchom, bPamas/bPchom, bPnelo/bPchom, bPchom/bPcval, bPcspu/bPlmir, bPcspu/bPbs322,
  bPprop/bPbs322, bPbs322/bPlmir, bPos807/bPsb349, bPos807/bPsb346, bPos807/bPsspu, bPos807/bPdinv,
  bPos807/bPtsoc, bPos807/bPsb356, bPsb349/bPsb346, bPsb346/bPsspu, bPsb356/bPsspu, bPsspu/bPtsoc,
  bPsspu/bPvb150, bPdinv/bPtsoc, bPtsoc/bPffas, bPtsoc/bPtmal, bPgb873/bPos894, bPos894/bPns020, bPos894/bPls219,
  bPlwad/bPlsab, bPlsab/bPts286, bPts286/bPsnox, bPlb100/bPts286, bPcmor/bPpyur, bPrden/bPvdis, bPrden/bPkden,
  bPrden/bPsang, bPrden/bPcgra, bPvdis/bPkden, bPvdis/bPsang, bPvdis/bPlume, bPvdis/bPcoch, bPkden/bPcgra,
  bPsang/bPcgra, bPlume/bPcgra, bPcoch/bPcgra, bPtmal/bPtden, bPtmal/bPffas, bPtmal/bPtfor, bPlb500/bPtden,
  bPlb500/bPpnod, bPlb500/bPpgin, bPds041/bPtfor, bPtden/bPffas, bPtden/bPpgin, bPtden/bPfalo, bPtden/bPpend,
  bPffas/bPpnod, bPffas/bPab439, bPffas/bPtfor, bPpnod/bPpgin, bPpnod/bPfalo, bPpnod/bPtfor, bPpnod/bPpend,
  bPab439/bPtfor, bPtfor/bPpgin, bPtfor/bPfalo, bPtfor/bPpend, bPpend/bPpbra, bPfnuc/bPpbra, bPpbra/bPpmic}
  \draw[posedge] (\a.center) -- (\b.center);
\foreach \a/\b in {bPcdur/bPnelo, bPlmir/bPchom, bPgadi/bPbs322, bPpnig/bPsspu, bPos807/bPvb150, bPsb346/bPtsoc,
  bPsb356/bPtsoc, bPsspu/bPdinv, bPtsoc/bPvb150, bPrden/bPlume, bPvdis/bPcgra, bPts237/bPtden, bPlb500/bPtfor,
  bPtden/bPpnod, bPtden/bPtfor, bPtfor/bPfnuc, bPpgin/bPfalo, bPfalo/bPpend, bPlsab/bPsnox}
  \draw[thkedge] (\a.center) -- (\b.center);
\foreach \a/\b in {bPbs322/bPdinv, bPbs322/bPsspu, bPbs322/bPtsoc, bPos807/bPlmir, bPlmir/bPsspu, bPlmir/bPtsoc}
  \draw[negedge] (\a.center) -- (\b.center);

\foreach \a/\b in {cHcdur/cHamas, cHcdur/cHraer, cHamas/cHas169, cHas169/cHraer, cHpnan/cHvrog, cHvrog/cHfper,
  cHtden/cHfalo, cHtfor/cHts237, cHts237/cHffas, cHsspu/cHtsoc, cHcgra/cHvdis, cHvdis/cHrden, cHcspu/cHbs322,
  cHfnuc/cHpmic, cPab439/cPffas, cPffas/cPtfor, cPpnod/cPtfor, cPlb500/cPtfor, cPtfor/cPds041, cPtfor/cPfnuc,
  cPtfor/cPtmal, cPtmal/cPtden, cPfalo/cPtden, cPos807/cPdinv, cPcspu/cPbs322, cPvdis/cPrden, cPvdis/cPcgra,
  cPcgra/cPsang, cPrden/cPsang, cPraer/cPas169, cPts286/cPlb100, cPpbra/cPpmic}
  \draw[cedge] (\a.center) -- (\b.center);
\end{pgfonlayer}
\end{tikzpicture}
\end{document}
